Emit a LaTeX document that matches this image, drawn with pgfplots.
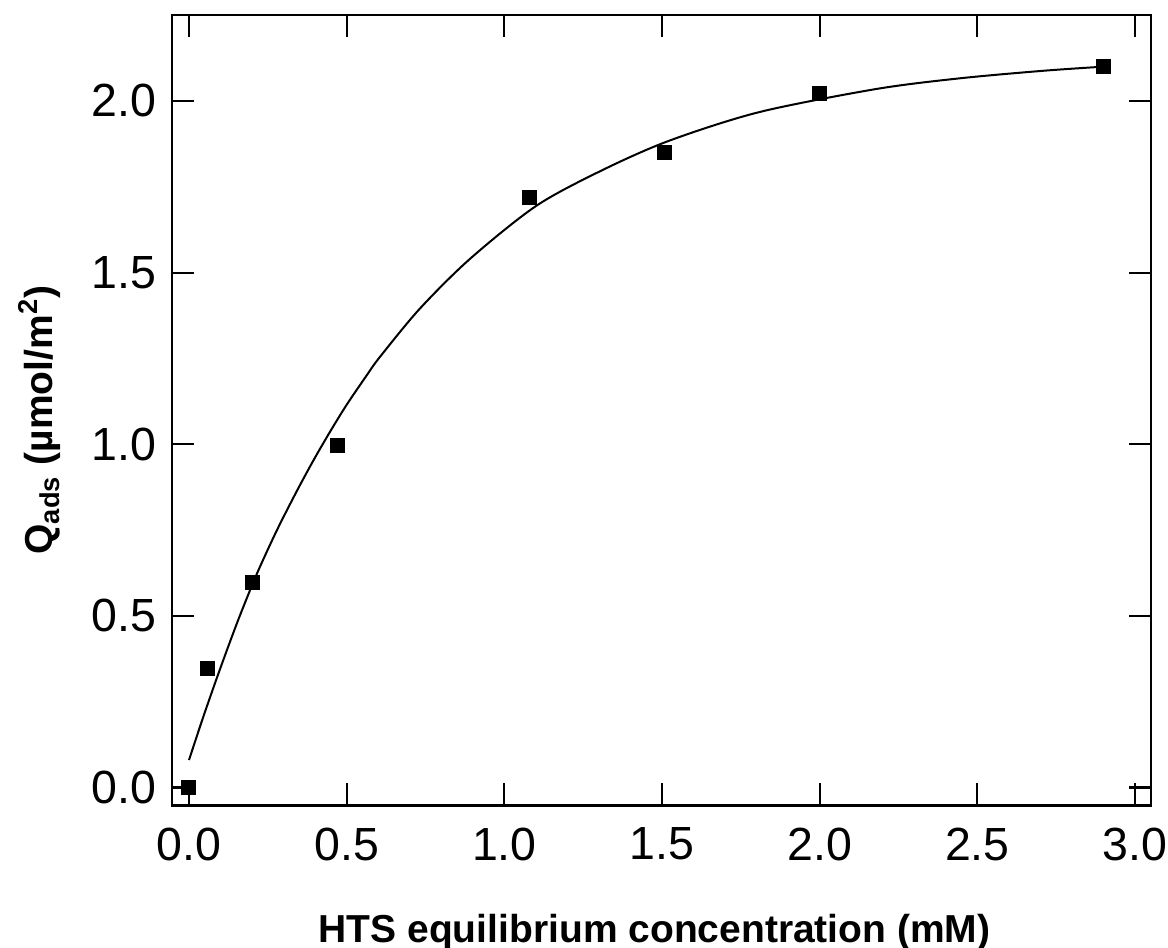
\documentclass[border=0pt]{standalone}
\usepackage{fontspec}
\setmainfont{Liberation Sans}
\usepackage{pgfplots}
\pgfplotsset{compat=1.18}
\begin{document}
\begin{tikzpicture}
\begin{axis}[
  at={(86pt,71.25pt)}, anchor=south west,
  scale only axis, width=489.5pt, height=395.25pt,
  xmin=-0.0539, xmax=3.0507, ymin=-0.0524, ymax=2.2505,
  xtick={0,0.5,1.0,1.5,2.0,2.5,3.0}, ytick={0,0.5,1.0,1.5,2.0},
  tick pos=both, tick align=inside, major tick length=11pt,
  axis line style={line width=1.1pt},
  tick style={black, line width=1.1pt},
  /pgf/number format/.cd, fixed, fixed zerofill, precision=1, assume math mode=true, /pgfplots/.cd,
  ticklabel style={font=\fontsize{23.25pt}{28pt}\selectfont},
  xticklabel style={anchor=north, inner sep=0pt, yshift=-11pt},
  yticklabel style={anchor=east, inner sep=0pt, xshift=-7.5pt},
  xlabel={HTS equilibrium concentration (mM)},
  xlabel style={font=\fontsize{19.5pt}{23pt}\selectfont\bfseries, at={(axis description cs:0.5,0)}, anchor=base, yshift=-68.4pt, xshift=-3.5pt},
  ylabel={Q\textsubscript{ads} (µmol/m\textsuperscript{2})},
  ylabel style={font=\fontsize{19.5pt}{23pt}\selectfont\bfseries, at={(axis description cs:0,0.5)}, anchor=base, yshift=59.5pt, xshift=-4.9pt},
]
\addplot[black, line width=1pt, smooth] coordinates {
(0.000,0.080) (0.045,0.205) (0.098,0.344) (0.156,0.488) (0.215,0.622)
(0.278,0.748) (0.341,0.862) (0.394,0.952) (0.447,1.036) (0.500,1.115)
(0.563,1.200) (0.606,1.255) (0.732,1.395) (0.891,1.540) (1.102,1.695)
(1.314,1.800) (1.525,1.885) (1.810,1.968) (2.180,2.035) (2.444,2.066)
(2.709,2.088) (2.900,2.100)
};
\addplot[only marks, mark=square*, mark size=3.5pt, mark options={line width=0.5pt, fill=black, draw=black}] coordinates {
(0.0,0.0) (0.058,0.348) (0.202,0.597) (0.470,0.996) (1.079,1.718) (1.509,1.851) (1.998,2.021) (2.899,2.100)
};
\end{axis}
\pgfresetboundingbox
\useasboundingbox (0,0) rectangle (584pt,474pt);
\end{tikzpicture}
\end{document}
